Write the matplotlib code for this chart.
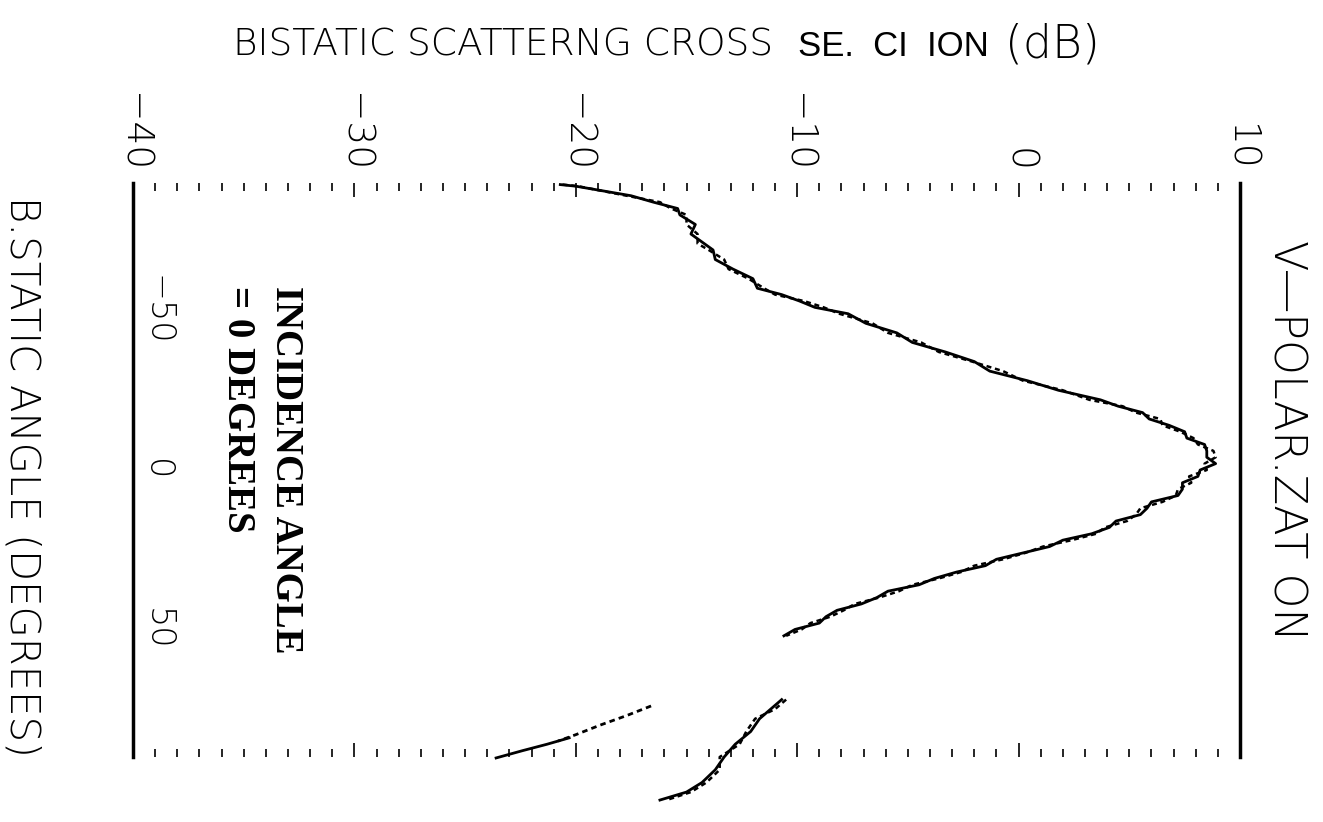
import matplotlib
matplotlib.use("Agg")
import matplotlib.pyplot as plt
import matplotlib.transforms as mtransforms
from matplotlib.ticker import MultipleLocator

# ---------------- data ----------------
db_ticks = [-40, -30, -20, -10, 0, 10]
db_tick_labels = ["\u221240", "\u221230", "\u221220", "\u221210", "0", "10"]
angle_ticks = [-50, 0, 50]
angle_tick_labels = ["\u221250", "0", "50"]

angles_main = [-89.5, -89, -86, -84, -82, -80, -77, -74, -71, -69, -66, -63, -60,
               -57, -55, -53, -51, -49, -46, -43, -40, -37, -34, -31, -28, -25,
               -22, -20, -18, -16, -14, -12, -10, -8, -6, -4, -2, 0, 2, 4, 6, 8,
               10, 12, 14, 16, 18, 20, 22, 24, 26, 28, 30, 32, 34, 36, 38, 40,
               42, 44, 46, 48, 50, 52]
solid_main = [-20.7, -20.0, -17.5, -16.5, -15.4, -15.3, -14.6, -14.8, -14.2, -13.8,
              -13.7, -12.9, -12.0, -11.8, -10.7, -9.9, -9.2, -7.7, -6.9, -5.5,
              -4.8, -3.3, -2.0, -1.3, 0.4, 1.8, 3.7, 4.5, 5.6, 5.9, 6.8, 7.5, 7.6,
              8.4, 8.5, 8.5, 8.9, 8.2, 8.1, 7.4, 7.4, 7.2, 6.0, 5.8, 5.5, 4.4, 4.1,
              3.3, 2.0, 1.4, 0.2, -1.0, -1.5, -2.8, -3.8, -4.5, -5.9, -6.4, -7.1,
              -8.2, -8.7, -9.0, -10.1, -10.6]
dotted_main = [-20.6, -19.9, -17.7, -16.2, -15.7, -15.0, -15.0, -14.5, -14.5, -14.0,
               -13.3, -13.1, -12.2, -11.5, -11.0, -9.7, -8.8, -8.1, -6.6, -5.9,
               -4.4, -3.6, -2.1, -0.7, 0.2, 2.0, 3.2, 4.7, 5.3, 6.4, 6.5, 7.3, 7.9,
               8.1, 8.8, 8.9, 8.4, 8.5, 7.7, 7.8, 7.2, 7.1, 6.5, 5.5, 5.3, 4.9, 3.9,
               3.5, 2.4, 1.1, 0.3, -0.7, -2.0, -2.6, -3.6, -4.8, -5.4, -6.3, -7.4,
               -7.9, -8.5, -9.4, -9.8, -10.5]

angles_seg2 = [72, 75, 78, 82, 86, 90, 94, 98, 101, 103.5]
solid_seg2 = [-10.7, -11.2, -11.7, -12.1, -12.8, -13.3, -13.7, -14.3, -15.0, -16.2]
dotted_seg2 = [-10.5, -11.0, -11.9, -12.3, -12.6, -13.5, -13.5, -14.1, -14.8, -15.9]

angles_seg3_dot = [74, 77, 80, 83, 85]
dotted_seg3 = [-16.6, -17.7, -18.9, -20.0, -20.8]
angles_seg3_sol = [84, 86, 88, 90.3]
solid_seg3 = [-20.3, -21.3, -22.4, -23.6]

# ---------------- figure ----------------
W, H = 1323, 822
fig = plt.figure(figsize=(W / 100, H / 100), dpi=100)
fig.patch.set_facecolor("white")
ax = fig.add_axes([133 / W, 1 - 757 / H, (1240 - 133) / W, (757 - 183) / H])
ax.set_xlim(-40, 10)
ax.set_ylim(90, -90)

for s in ("top", "bottom"):
    ax.spines[s].set_visible(False)
for s in ("left", "right"):
    ax.spines[s].set_linewidth(2.5)

ax.set_xticks(db_ticks)
ax.xaxis.set_minor_locator(MultipleLocator(1))
ax.tick_params(axis="x", which="both", top=True, bottom=True, direction="in",
               labelbottom=False, labeltop=False, width=1.2, color="black")
ax.tick_params(axis="x", which="major", length=10)
ax.tick_params(axis="x", which="minor", length=6)
ax.set_yticks([])

ax.plot(solid_main, angles_main, color="black", lw=2.0)
ax.plot(dotted_main, angles_main, color="black", lw=1.8, ls=(0, (2, 1.5)))
ax.plot(solid_seg2, angles_seg2, color="black", lw=2.0, clip_on=False)
ax.plot(dotted_seg2, angles_seg2, color="black", lw=1.8, ls=(0, (2, 1.5)), clip_on=False)
ax.plot(dotted_seg3, angles_seg3_dot, color="black", lw=2.0, ls=(0, (2, 1.5)), clip_on=False)
ax.plot(solid_seg3, angles_seg3_sol, color="black", lw=2.0, clip_on=False)

thin = dict(family="DejaVu Sans", fontweight="light")

# dB tick labels (rotated)
tr_top = mtransforms.blended_transform_factory(ax.transData, fig.transFigure)
for v, lab in zip(db_ticks, db_tick_labels):
    fig.text(v, 1 - 172 / H, lab, transform=tr_top, rotation=270,
             ha="center", va="bottom", fontsize=27, **thin)

# angle tick labels (rotated)
tr_left = mtransforms.blended_transform_factory(fig.transFigure, ax.transData)
for v, lab in zip(angle_ticks, angle_tick_labels):
    fig.text(157 / W, v, lab, transform=tr_left, rotation=270,
             ha="center", va="center", fontsize=24, **thin)

# axis titles
fig.text(233 / W, 1 - 45 / H, "BISTATIC SCATTERNG CROSS", ha="left", va="center",
         fontsize=27, **thin)
fig.text(798 / W, 1 - 47 / H, "SE.  CI  ION", ha="left", va="center",
         fontsize=25, family="Liberation Sans")
fig.text(1005 / W, 1 - 45 / H, "(dB)", ha="left", va="center",
         fontsize=33, **thin)

fig.text(22 / W, 1 - 196 / H, "B.STATIC ANGLE (DEGREES)", rotation=270,
         ha="center", va="top", fontsize=29, **thin)

fig.text(1286 / W, 1 - 440 / H, "V\u2014POLAR.ZAT ON", rotation=270,
         ha="center", va="center", fontsize=32, **thin)

fig.text(285 / W, 1 - 286 / H, "INCIDENCE ANGLE", rotation=270,
         ha="center", va="top", fontsize=28, family="Liberation Serif",
         fontweight="bold")
fig.text(237 / W, 1 - 286 / H, "= 0 DEGREES", rotation=270,
         ha="center", va="top", fontsize=28, family="Liberation Serif",
         fontweight="bold")

fig.savefig("out.png", dpi=100, facecolor="white")
